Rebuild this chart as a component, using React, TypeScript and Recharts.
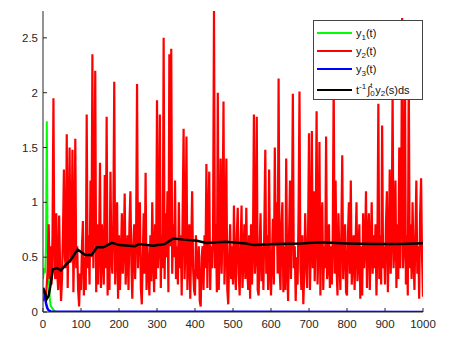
import React from 'react';
import { LineChart, Line, XAxis, YAxis, Legend } from 'recharts';

// y2(t) read every 2.5 time units; one row = 50 time units
const y2Values = [
  0.10, 0.12, 0.15, 0.14, 0.25, 0.40, 0.80, 0.30, 0.60, 0.25, 0.70, 1.95, 0.40, 0.30, 0.90, 0.35, 0.20, 0.88, 0.40, 0.10,
  0.30, 0.70, 1.30, 0.50, 0.40, 1.62, 0.22, 0.80, 1.50, 0.45, 0.60, 1.48, 0.18, 0.70, 1.58, 0.40, 0.60, 0.20, 0.05, 0.35,
  0.20, 0.60, 0.83, 0.15, 0.50, 0.20, 1.80, 0.40, 0.70, 0.25, 1.20, 0.50, 2.35, 0.40, 0.90, 2.20, 0.18, 0.80, 0.25, 0.60,
  1.36, 0.22, 0.80, 0.50, 0.25, 1.25, 0.40, 1.78, 0.15, 0.60, 0.20, 1.28, 0.50, 0.35, 0.80, 2.10, 0.25, 0.60, 1.00, 0.12,
  0.70, 0.20, 0.50, 0.90, 0.35, 0.60, 1.08, 0.25, 0.50, 0.70, 0.20, 0.80, 1.10, 0.45, 0.12, 0.60, 0.80, 0.30, 0.70, 2.08,
  0.40, 0.80, 1.00, 0.22, 0.07, 0.50, 0.90, 0.35, 1.27, 0.20, 0.60, 0.40, 0.15, 0.70, 0.28, 1.00, 0.50, 0.18, 0.80, 0.30,
  1.93, 0.40, 0.60, 1.80, 0.22, 0.70, 0.40, 2.50, 0.30, 0.90, 0.50, 1.10, 0.18, 2.35, 0.60, 2.40, 0.35, 0.80, 0.50, 1.20,
  0.30, 0.60, 0.25, 1.00, 0.40, 0.70, 0.15, 0.90, 1.67, 0.30, 0.60, 1.60, 0.20, 0.50, 0.80, 0.12, 0.60, 1.10, 0.40, 0.20,
  0.15, 0.70, 0.40, 0.30, 0.60, 0.10, 0.05, 0.50, 0.60, 0.20, 0.70, 0.40, 1.35, 0.22, 0.80, 1.28, 0.20, 0.60, 0.40, 0.70,
  2.75, 0.40, 0.80, 0.18, 2.00, 0.20, 0.60, 1.40, 0.35, 0.80, 1.92, 0.25, 0.60, 1.40, 0.20, 0.07, 0.50, 0.80, 0.30, 0.60,
  0.25, 0.97, 0.40, 0.20, 0.70, 0.95, 0.35, 0.15, 0.60, 0.97, 0.22, 0.50, 0.80, 0.30, 0.95, 0.40, 0.20, 0.70, 0.12, 0.80,
  0.25, 0.60, 1.80, 0.35, 0.50, 1.78, 0.20, 0.15, 0.60, 0.90, 0.28, 0.60, 0.20, 0.80, 1.48, 0.35, 0.70, 0.20, 1.30, 0.40,
  0.15, 0.50, 0.85, 0.25, 1.50, 0.60, 1.00, 0.35, 2.13, 0.40, 0.20, 0.80, 1.00, 0.18, 0.60, 0.20, 1.40, 0.40, 0.10, 0.70,
  1.20, 0.30, 0.80, 1.99, 0.40, 0.60, 0.10, 0.50, 0.25, 0.90, 2.01, 0.40, 0.20, 0.70, 0.07, 0.35, 0.90, 0.50, 0.22, 0.70,
  1.63, 0.20, 0.60, 1.65, 0.40, 1.10, 0.28, 0.70, 1.83, 0.25, 0.60, 1.55, 0.15, 0.80, 1.00, 0.20, 0.60, 0.40, 1.60, 0.30,
  0.40, 0.80, 0.22, 0.60, 0.25, 0.70, 2.10, 0.35, 1.20, 0.40, 0.15, 0.90, 0.50, 0.20, 0.70, 1.43, 0.30, 0.60, 0.80, 0.18,
  0.15, 0.70, 1.00, 0.35, 1.20, 0.25, 0.50, 0.70, 0.20, 0.60, 1.00, 0.28, 0.50, 0.80, 0.12, 0.60, 0.15, 0.90, 0.40, 0.60,
  1.10, 0.22, 0.70, 0.90, 0.20, 0.60, 1.00, 0.35, 0.70, 0.40, 0.80, 0.15, 0.60, 1.90, 0.30, 0.70, 0.25, 1.70, 0.40, 0.60,
  0.25, 0.80, 1.10, 0.18, 0.60, 1.30, 0.35, 0.70, 2.00, 0.40, 0.60, 1.20, 0.22, 0.80, 0.30, 1.50, 0.40, 0.90, 2.68, 0.40,
  0.60, 2.30, 0.25, 0.70, 0.15, 2.20, 0.40, 0.80, 0.30, 1.00, 0.50, 0.20, 0.70, 1.20, 0.35, 0.60, 0.12, 0.90, 1.22, 0.50,
  0.14,
];

const y1Times = [0, 2, 4, 6, 8, 10, 11, 12, 14, 16, 18, 20, 25, 30, 35, 40, 1000];
const y1Values = [0.30, 0.40, 0.35, 0.38, 0.60, 1.74, 1.20, 0.60, 0.45, 0.25, 0.12, 0.06, 0.03, 0.01, 0.0, 0.0, 0.0];

const y3Times = [0, 2, 4, 6, 8, 10, 12, 15, 20, 1000];
const y3Values = [0.22, 0.20, 0.17, 0.12, 0.08, 0.05, 0.03, 0.015, 0.005, 0.0];

const avgTimes = [
  0, 5, 10, 15, 20, 26, 37, 47, 60, 72, 91, 111, 128, 142, 159, 181, 202,
  242, 253, 290, 320, 343, 370, 405, 430, 480, 535, 556, 613, 680, 730,
  800, 870, 940, 1000,
];
const avgValues = [
  0.22, 0.18, 0.12, 0.15, 0.25, 0.39, 0.40, 0.38, 0.43, 0.47, 0.57, 0.52,
  0.52, 0.59, 0.59, 0.63, 0.61, 0.60, 0.62, 0.605, 0.62, 0.67, 0.66, 0.65,
  0.63, 0.64, 0.625, 0.61, 0.62, 0.625, 0.635, 0.625, 0.62, 0.62, 0.626,
];

const xTicks = [0, 100, 200, 300, 400, 500, 600, 700, 800, 900, 1000];
const yTicks = [0, 0.5, 1, 1.5, 2, 2.5];

const y2Data = y2Values.map((v, i) => ({ t: i * 2.5, v }));
const y1Data = y1Times.map((t, i) => ({ t, v: y1Values[i] }));
const y3Data = y3Times.map((t, i) => ({ t, v: y3Values[i] }));
const avgData = avgTimes.map((t, i) => ({ t, v: avgValues[i] }));

const axisColor = '#262626';
const font = 'Liberation Sans, Arial, sans-serif';

const BottomTick = ({ x, y, payload }: any) => (
  <g>
    <line x1={x} x2={x} y1={y} y2={y - 4} stroke={axisColor} />
    <text x={x} y={y + 16} textAnchor="middle" fontSize={11.5} fontFamily={font} fill={axisColor}>
      {payload.value}
    </text>
  </g>
);

const TopTick = ({ x, y }: any) => <line x1={x} x2={x} y1={y} y2={y + 4} stroke={axisColor} />;

const LeftTick = ({ x, y, payload }: any) => (
  <g>
    <line x1={x} x2={x + 4} y1={y} y2={y} stroke={axisColor} />
    <text x={x - 5} y={y + 4} textAnchor="end" fontSize={11.5} fontFamily={font} fill={axisColor}>
      {payload.value}
    </text>
  </g>
);

const RightTick = ({ x, y }: any) => <line x1={x} x2={x - 4} y1={y} y2={y} stroke={axisColor} />;

const sub = { fontSize: 8, position: 'relative' as const, top: 3 };
const sup = { fontSize: 8, position: 'relative' as const, top: -4 };

const legendRows = [
  { color: '#00ff00', top: 12, label: <span>y<span style={sub}>1</span>(t)</span> },
  { color: '#ff0000', top: 30, label: <span>y<span style={sub}>2</span>(t)</span> },
  { color: '#0000ff', top: 48, label: <span>y<span style={sub}>3</span>(t)</span> },
  {
    color: '#000000',
    top: 69,
    label: (
      <span style={{ display: 'inline-flex', alignItems: 'center' }}>
        t<span style={{ ...sup, marginRight: 1 }}>-1</span>
        <span style={{ fontSize: 11, fontStyle: 'italic' }}>&#8747;</span>
        <span style={{ display: 'inline-block', position: 'relative', width: 5, height: 14 }}>
          <span style={{ position: 'absolute', left: 0, top: -2, fontSize: 8 }}>t</span>
          <span style={{ position: 'absolute', left: 0, top: 6, fontSize: 8 }}>0</span>
        </span>
        y<span style={sub}>2</span>(s)ds
      </span>
    ),
  },
];

const LegendBox = () => (
  <div
    style={{
      position: 'relative',
      width: 110,
      height: 80,
      boxSizing: 'border-box',
      border: '1px solid #444',
      background: '#fff',
      fontFamily: font,
      fontSize: 11,
      color: '#111',
    }}
  >
    {legendRows.map((row, i) => (
      <div key={i} style={{ position: 'absolute', left: 3, top: row.top - 7, height: 14, display: 'flex', alignItems: 'center', whiteSpace: 'nowrap' }}>
        <div style={{ width: 35, height: 2, background: row.color, marginRight: 4 }} />
        {row.label}
      </div>
    ))}
  </div>
);

export default function App() {
  return (
    <div style={{ position: 'absolute', left: 0, top: 0, background: '#fff' }}>
      <LineChart width={470} height={343} margin={{ top: 11, right: 47, bottom: 6, left: 3 }}>
        <XAxis
          dataKey="t"
          type="number"
          domain={[0, 1000]}
          ticks={xTicks}
          height={25}
          allowDataOverflow
          stroke={axisColor}
          tickLine={false}
          tickSize={0}
          tickMargin={0}
          tick={<BottomTick />}
        />
        <XAxis
          xAxisId="top"
          orientation="top"
          dataKey="t"
          type="number"
          domain={[0, 1000]}
          ticks={xTicks}
          height={0}
          stroke={axisColor}
          tickLine={false}
          tickSize={0}
          tickMargin={0}
          tick={<TopTick />}
        />
        <YAxis
          type="number"
          domain={[0, 2.745]}
          ticks={yTicks}
          width={40}
          allowDataOverflow
          stroke={axisColor}
          tickLine={false}
          tickSize={0}
          tickMargin={0}
          tick={<LeftTick />}
        />
        <YAxis
          yAxisId="right"
          orientation="right"
          type="number"
          domain={[0, 2.745]}
          ticks={yTicks}
          width={0}
          stroke={axisColor}
          tickLine={false}
          tickSize={0}
          tickMargin={0}
          tick={<RightTick />}
        />
        <Line data={y1Data} dataKey="v" stroke="#00ff00" strokeWidth={2} dot={false} isAnimationActive={false} />
        <Line data={y2Data} dataKey="v" stroke="#ff0000" strokeWidth={2.2} dot={false} isAnimationActive={false} />
        <Line data={y3Data} dataKey="v" stroke="#0000ff" strokeWidth={2.5} dot={false} isAnimationActive={false} />
        <Line data={avgData} dataKey="v" stroke="#000000" strokeWidth={2.5} dot={false} isAnimationActive={false} />
        <Legend
          layout="vertical"
          align="center"
          verticalAlign="middle"
          content={<LegendBox />}
          wrapperStyle={{ position: 'absolute', left: 313, top: 20, width: 110, height: 80 }}
        />
      </LineChart>
    </div>
  );
}
